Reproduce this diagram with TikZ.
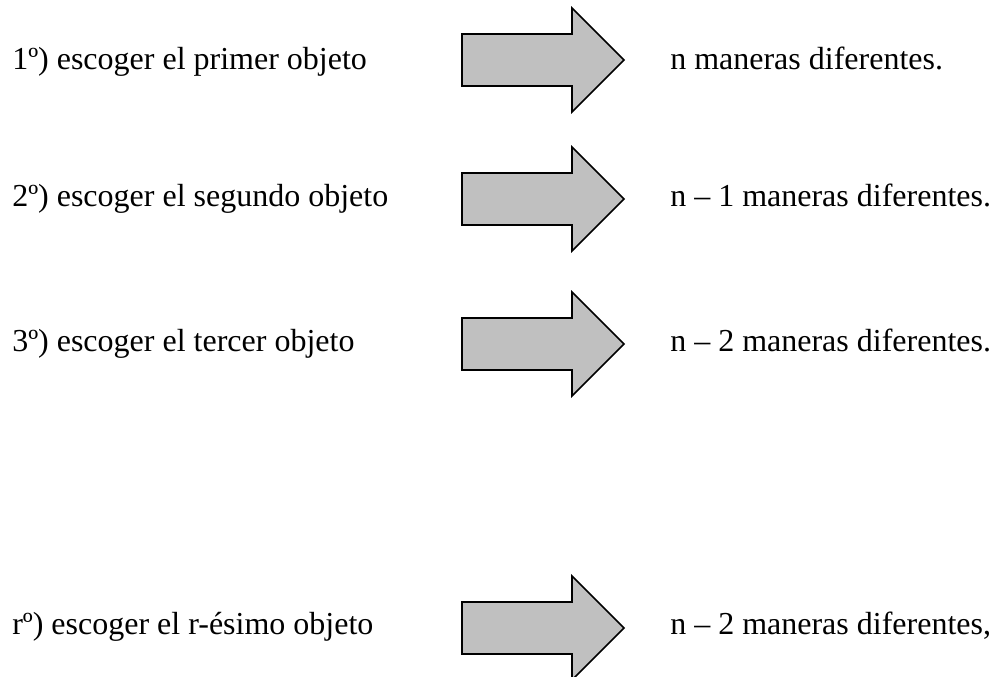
\documentclass[tikz,border=0pt]{standalone}
\usepackage{fontspec}
\setmainfont{Liberation Serif}
\definecolor{arrowgray}{HTML}{C0C0C0}
\tikzset{
  blockarrow/.style={draw=black, fill=arrowgray, line width=1.2pt, line join=miter},
  lefttext/.style={anchor=base west, inner sep=0pt, font=\fontsize{24pt}{28pt}\selectfont},
  righttext/.style={anchor=base west, inner sep=0pt, font=\fontsize{24pt}{28pt}\selectfont}
}
\newcommand{\myblockarrow}[1]{%
  \draw[blockarrow] (462,#1-26) -- (572,#1-26) -- (572,#1-52) -- (624,#1) -- (572,#1+52) -- (572,#1+26) -- (462,#1+26) -- cycle;}
\begin{document}
\begin{tikzpicture}[x=0.75pt,y=-0.75pt]
\useasboundingbox (0,0) rectangle (995,677);
\myblockarrow{60}
\myblockarrow{199}
\myblockarrow{344}
\myblockarrow{628}
\node[lefttext] (l1) at (12,70) {1º) escoger el primer objeto};
\node[lefttext] (l2) at (12,207) {2º) escoger el segundo objeto};
\node[lefttext] (l3) at (12,351) {3º) escoger el tercer objeto};
\node[lefttext] (l4) at (12,634) {rº) escoger el r-ésimo objeto};
\node[righttext] (r1) at (670,70) {n maneras diferentes.};
\node[righttext] (r2) at (670,207) {n – 1 maneras diferentes.};
\node[righttext] (r3) at (670,351) {n – 2 maneras diferentes.};
\node[righttext] (r4) at (670,634) {n – 2 maneras diferentes,};
\end{tikzpicture}
\end{document}
